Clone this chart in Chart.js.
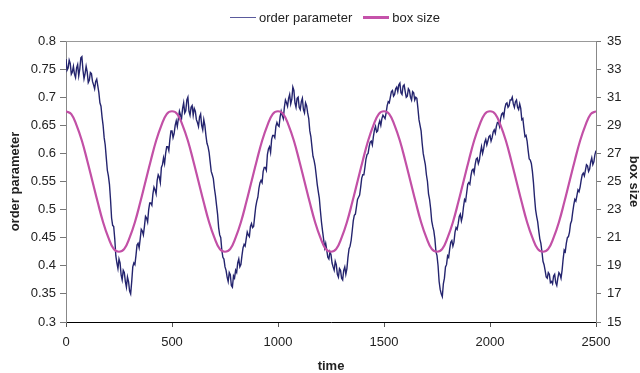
<!DOCTYPE html>
<html>
<head>
<meta charset="utf-8">
<script src="https://cdn.jsdelivr.net/npm/chart.js@4/dist/chart.umd.min.js"></script>
<style>
    body { margin: 0; background: #fff; }
    #wrap { position: relative; width: 640px; height: 373px; }
    #legend { position: absolute; top: 9px; left: 230px; font: 13px "Liberation Sans", Arial, sans-serif; color: #222; white-space: nowrap; }
    #legend span { display: inline-block; vertical-align: middle; }
    .swatch { width: 26px; margin-right: 3px; }
</style>
</head>
<body>
<div id="wrap">
    <canvas id="graph" width="640" height="373"></canvas>
    <div id="legend">
        <span class="swatch" style="border-top: 1.5px solid #5a5a9c;"></span><span style="margin-right: 11px;">order parameter</span><span class="swatch" style="border-top: 3px solid #c552aa;"></span><span>box size</span>
    </div>
</div>
<script>
// time axis
const timeTicks = [0, 500, 1000, 1500, 2000, 2500];
const opStep = 5;    // order parameter sampled every 5 time units
const boxStep = 25;  // box size sampled every 25 time units

// order parameter (t = 0, 5, 10 ... 2500), 20 values per row
const orderParam = [
    0.768, 0.748, 0.752, 0.766, 0.760, 0.741, 0.745, 0.755, 0.741, 0.735, 0.752, 0.758, 0.738, 0.750, 0.770, 0.772, 0.748, 0.733, 0.742, 0.755,
    0.745, 0.726, 0.730, 0.744, 0.742, 0.728, 0.722, 0.715, 0.728, 0.732, 0.720, 0.708, 0.690, 0.684, 0.665, 0.650, 0.628, 0.615, 0.592, 0.570,
    0.560, 0.545, 0.518, 0.485, 0.472, 0.470, 0.448, 0.418, 0.405, 0.395, 0.412, 0.405, 0.384, 0.375, 0.392, 0.388, 0.372, 0.362, 0.380, 0.372,
    0.355, 0.350, 0.372, 0.398, 0.405, 0.402, 0.418, 0.437, 0.440, 0.432, 0.448, 0.465, 0.462, 0.455, 0.470, 0.488, 0.485, 0.478, 0.500, 0.512,
    0.512, 0.508, 0.528, 0.540, 0.535, 0.528, 0.552, 0.562, 0.558, 0.548, 0.575, 0.580, 0.592, 0.582, 0.600, 0.612, 0.612, 0.605, 0.625, 0.640,
    0.640, 0.628, 0.635, 0.650, 0.658, 0.648, 0.662, 0.675, 0.668, 0.662, 0.680, 0.690, 0.672, 0.676, 0.695, 0.700, 0.675, 0.668, 0.682, 0.685,
    0.668, 0.680, 0.675, 0.660, 0.655, 0.648, 0.665, 0.670, 0.650, 0.642, 0.660, 0.650, 0.632, 0.618, 0.612, 0.602, 0.585, 0.568, 0.562, 0.555,
    0.538, 0.525, 0.508, 0.492, 0.468, 0.455, 0.450, 0.428, 0.415, 0.412, 0.398, 0.392, 0.380, 0.372, 0.388, 0.384, 0.365, 0.362, 0.382, 0.378,
    0.392, 0.388, 0.405, 0.412, 0.398, 0.402, 0.418, 0.432, 0.438, 0.435, 0.448, 0.460, 0.455, 0.452, 0.470, 0.475, 0.468, 0.470, 0.488, 0.505,
    0.515, 0.522, 0.538, 0.548, 0.552, 0.548, 0.568, 0.575, 0.575, 0.570, 0.598, 0.608, 0.612, 0.602, 0.625, 0.632, 0.632, 0.628, 0.648, 0.655,
    0.650, 0.648, 0.665, 0.675, 0.668, 0.662, 0.682, 0.695, 0.690, 0.684, 0.698, 0.705, 0.688, 0.696, 0.718, 0.712, 0.690, 0.682, 0.698, 0.700,
    0.682, 0.678, 0.692, 0.698, 0.678, 0.672, 0.690, 0.685, 0.672, 0.662, 0.640, 0.630, 0.612, 0.595, 0.588, 0.578, 0.562, 0.545, 0.532, 0.520,
    0.498, 0.478, 0.462, 0.448, 0.432, 0.440, 0.428, 0.415, 0.412, 0.425, 0.420, 0.405, 0.398, 0.392, 0.408, 0.402, 0.385, 0.380, 0.395, 0.392,
    0.378, 0.375, 0.392, 0.398, 0.385, 0.395, 0.415, 0.430, 0.435, 0.445, 0.462, 0.480, 0.490, 0.492, 0.505, 0.518, 0.522, 0.526, 0.540, 0.556,
    0.562, 0.562, 0.575, 0.590, 0.598, 0.600, 0.612, 0.620, 0.622, 0.615, 0.630, 0.642, 0.648, 0.638, 0.640, 0.652, 0.658, 0.650, 0.662, 0.668,
    0.665, 0.662, 0.672, 0.685, 0.692, 0.690, 0.700, 0.710, 0.712, 0.702, 0.705, 0.715, 0.718, 0.710, 0.722, 0.725, 0.708, 0.705, 0.720, 0.722,
    0.710, 0.700, 0.702, 0.715, 0.712, 0.700, 0.695, 0.710, 0.708, 0.695, 0.700, 0.698, 0.680, 0.660, 0.650, 0.640, 0.618, 0.600, 0.590, 0.580,
    0.562, 0.550, 0.528, 0.518, 0.502, 0.480, 0.470, 0.462, 0.448, 0.425, 0.418, 0.400, 0.372, 0.358, 0.350, 0.345, 0.368, 0.378, 0.398, 0.402,
    0.418, 0.415, 0.430, 0.442, 0.445, 0.435, 0.442, 0.460, 0.468, 0.465, 0.475, 0.488, 0.492, 0.480, 0.488, 0.505, 0.518, 0.515, 0.530, 0.545,
    0.548, 0.545, 0.560, 0.570, 0.572, 0.565, 0.580, 0.590, 0.592, 0.582, 0.588, 0.602, 0.612, 0.600, 0.608, 0.620, 0.625, 0.615, 0.622, 0.630,
    0.632, 0.622, 0.628, 0.638, 0.642, 0.636, 0.648, 0.655, 0.655, 0.648, 0.662, 0.670, 0.672, 0.665, 0.680, 0.688, 0.690, 0.682, 0.685, 0.695,
    0.695, 0.700, 0.688, 0.682, 0.692, 0.695, 0.682, 0.678, 0.688, 0.680, 0.660, 0.662, 0.645, 0.630, 0.632, 0.622, 0.605, 0.590, 0.588, 0.582,
    0.568, 0.548, 0.522, 0.500, 0.488, 0.478, 0.462, 0.448, 0.440, 0.425, 0.408, 0.402, 0.392, 0.380, 0.378, 0.388, 0.385, 0.370, 0.372, 0.368,
    0.382, 0.385, 0.370, 0.365, 0.378, 0.388, 0.385, 0.378, 0.392, 0.412, 0.428, 0.425, 0.440, 0.450, 0.452, 0.460, 0.475, 0.480, 0.495, 0.508,
    0.518, 0.515, 0.525, 0.535, 0.532, 0.540, 0.552, 0.562, 0.565, 0.560, 0.570, 0.580, 0.578, 0.568, 0.572, 0.585, 0.592, 0.580, 0.585, 0.598,
    0.605
];

// box size (t = 0, 25, 50 ... 2500)
const boxSize = [
    30, 29.8, 29.0, 27.9, 26.5, 25, 23.5, 22.1, 21.0, 20.2, 20, 20.2, 21.0, 22.1, 23.5, 25, 26.5, 27.9, 29.0, 29.8,
    30, 29.8, 29.0, 27.9, 26.5, 25, 23.5, 22.1, 21.0, 20.2, 20, 20.2, 21.0, 22.1, 23.5, 25, 26.5, 27.9, 29.0, 29.8,
    30, 29.8, 29.0, 27.9, 26.5, 25, 23.5, 22.1, 21.0, 20.2, 20, 20.2, 21.0, 22.1, 23.5, 25, 26.5, 27.9, 29.0, 29.8,
    30, 29.8, 29.0, 27.9, 26.5, 25, 23.5, 22.1, 21.0, 20.2, 20, 20.2, 21.0, 22.1, 23.5, 25, 26.5, 27.9, 29.0, 29.8,
    30, 29.8, 29.0, 27.9, 26.5, 25, 23.5, 22.1, 21.0, 20.2, 20, 20.2, 21.0, 22.1, 23.5, 25, 26.5, 27.9, 29.0, 29.8,
    30
];

const leftTicks = [0.3, 0.35, 0.4, 0.45, 0.5, 0.55, 0.6, 0.65, 0.7, 0.75, 0.8];
const rightTicks = [15, 17, 19, 21, 23, 25, 27, 29, 31, 33, 35];

const font = { family: '"Liberation Sans", Arial, sans-serif', size: 13 };
const titleFont = { family: '"Liberation Sans", Arial, sans-serif', size: 13, weight: 'bold', lineHeight: 1 };

// thin grey line along the top of the plot area
const topBorder = {
    id: 'topBorder',
    afterDraw(chart) {
        const a = chart.chartArea, ctx = chart.ctx;
        ctx.save();
        ctx.strokeStyle = '#999';
        ctx.lineWidth = 1;
        ctx.beginPath();
        ctx.moveTo(a.left, Math.round(a.top) + 0.5);
        ctx.lineTo(a.right, Math.round(a.top) + 0.5);
        ctx.stroke();
        ctx.restore();
    }
};

new Chart(document.getElementById('graph'), {
    type: 'line',
    data: {
        datasets: [
            {
                label: 'order parameter',
                data: orderParam.map((v, i) => ({ x: i * opStep, y: v })),
                yAxisID: 'y',
                borderColor: '#24246e',
                borderWidth: 1.4,
                pointRadius: 0,
                tension: 0,
                order: 1
            },
            {
                label: 'box size',
                data: boxSize.map((v, i) => ({ x: i * boxStep, y: v })),
                yAxisID: 'y2',
                borderColor: '#c250a6',
                borderWidth: 2.2,
                pointRadius: 0,
                tension: 0.4,
                order: 0
            }
        ]
    },
    options: {
        responsive: false,
        animation: false,
        layout: { padding: { top: 41, left: 0, right: 0, bottom: 0 } },
        plugins: { legend: { display: false }, tooltip: { enabled: false } },
        scales: {
            x: {
                type: 'linear',
                min: 0, max: 2500,
                afterBuildTicks: s => { s.ticks = timeTicks.map(v => ({ value: v })); },
                afterFit: s => { s.height = 51; },
                ticks: { font: font, color: '#222', padding: 8, maxRotation: 0, callback: v => String(v) },
                grid: { drawOnChartArea: false, tickLength: 5, color: '#555' },
                border: { color: '#000', width: 1 },
                title: { display: true, text: 'time', font: titleFont, color: '#222', padding: { top: 0, bottom: 0 } }
            },
            y: {
                position: 'left',
                min: 0.3, max: 0.8,
                afterBuildTicks: s => { s.ticks = leftTicks.map(v => ({ value: v })); },
                afterFit: s => { s.width = 66; },
                ticks: { font: font, color: '#222', padding: 4, callback: v => String(+v.toFixed(2)) },
                grid: { drawOnChartArea: false, tickLength: 6, color: '#777' },
                border: { color: '#888', width: 1 },
                title: { display: true, text: 'order parameter', font: titleFont, color: '#222', padding: { top: 9, bottom: 0 } }
            },
            y2: {
                position: 'right',
                min: 15, max: 35,
                afterBuildTicks: s => { s.ticks = rightTicks.map(v => ({ value: v })); },
                afterFit: s => { s.width = 44; },
                ticks: { font: font, color: '#222', padding: 6, callback: v => String(v) },
                grid: { drawOnChartArea: false, tickLength: 5, color: '#777' },
                border: { color: '#888', width: 1 },
                title: { display: true, text: 'box size', font: titleFont, color: '#222', padding: { top: 0, bottom: 0 } }
            }
        }
    },
    plugins: [topBorder]
});
</script>
</body>
</html>
